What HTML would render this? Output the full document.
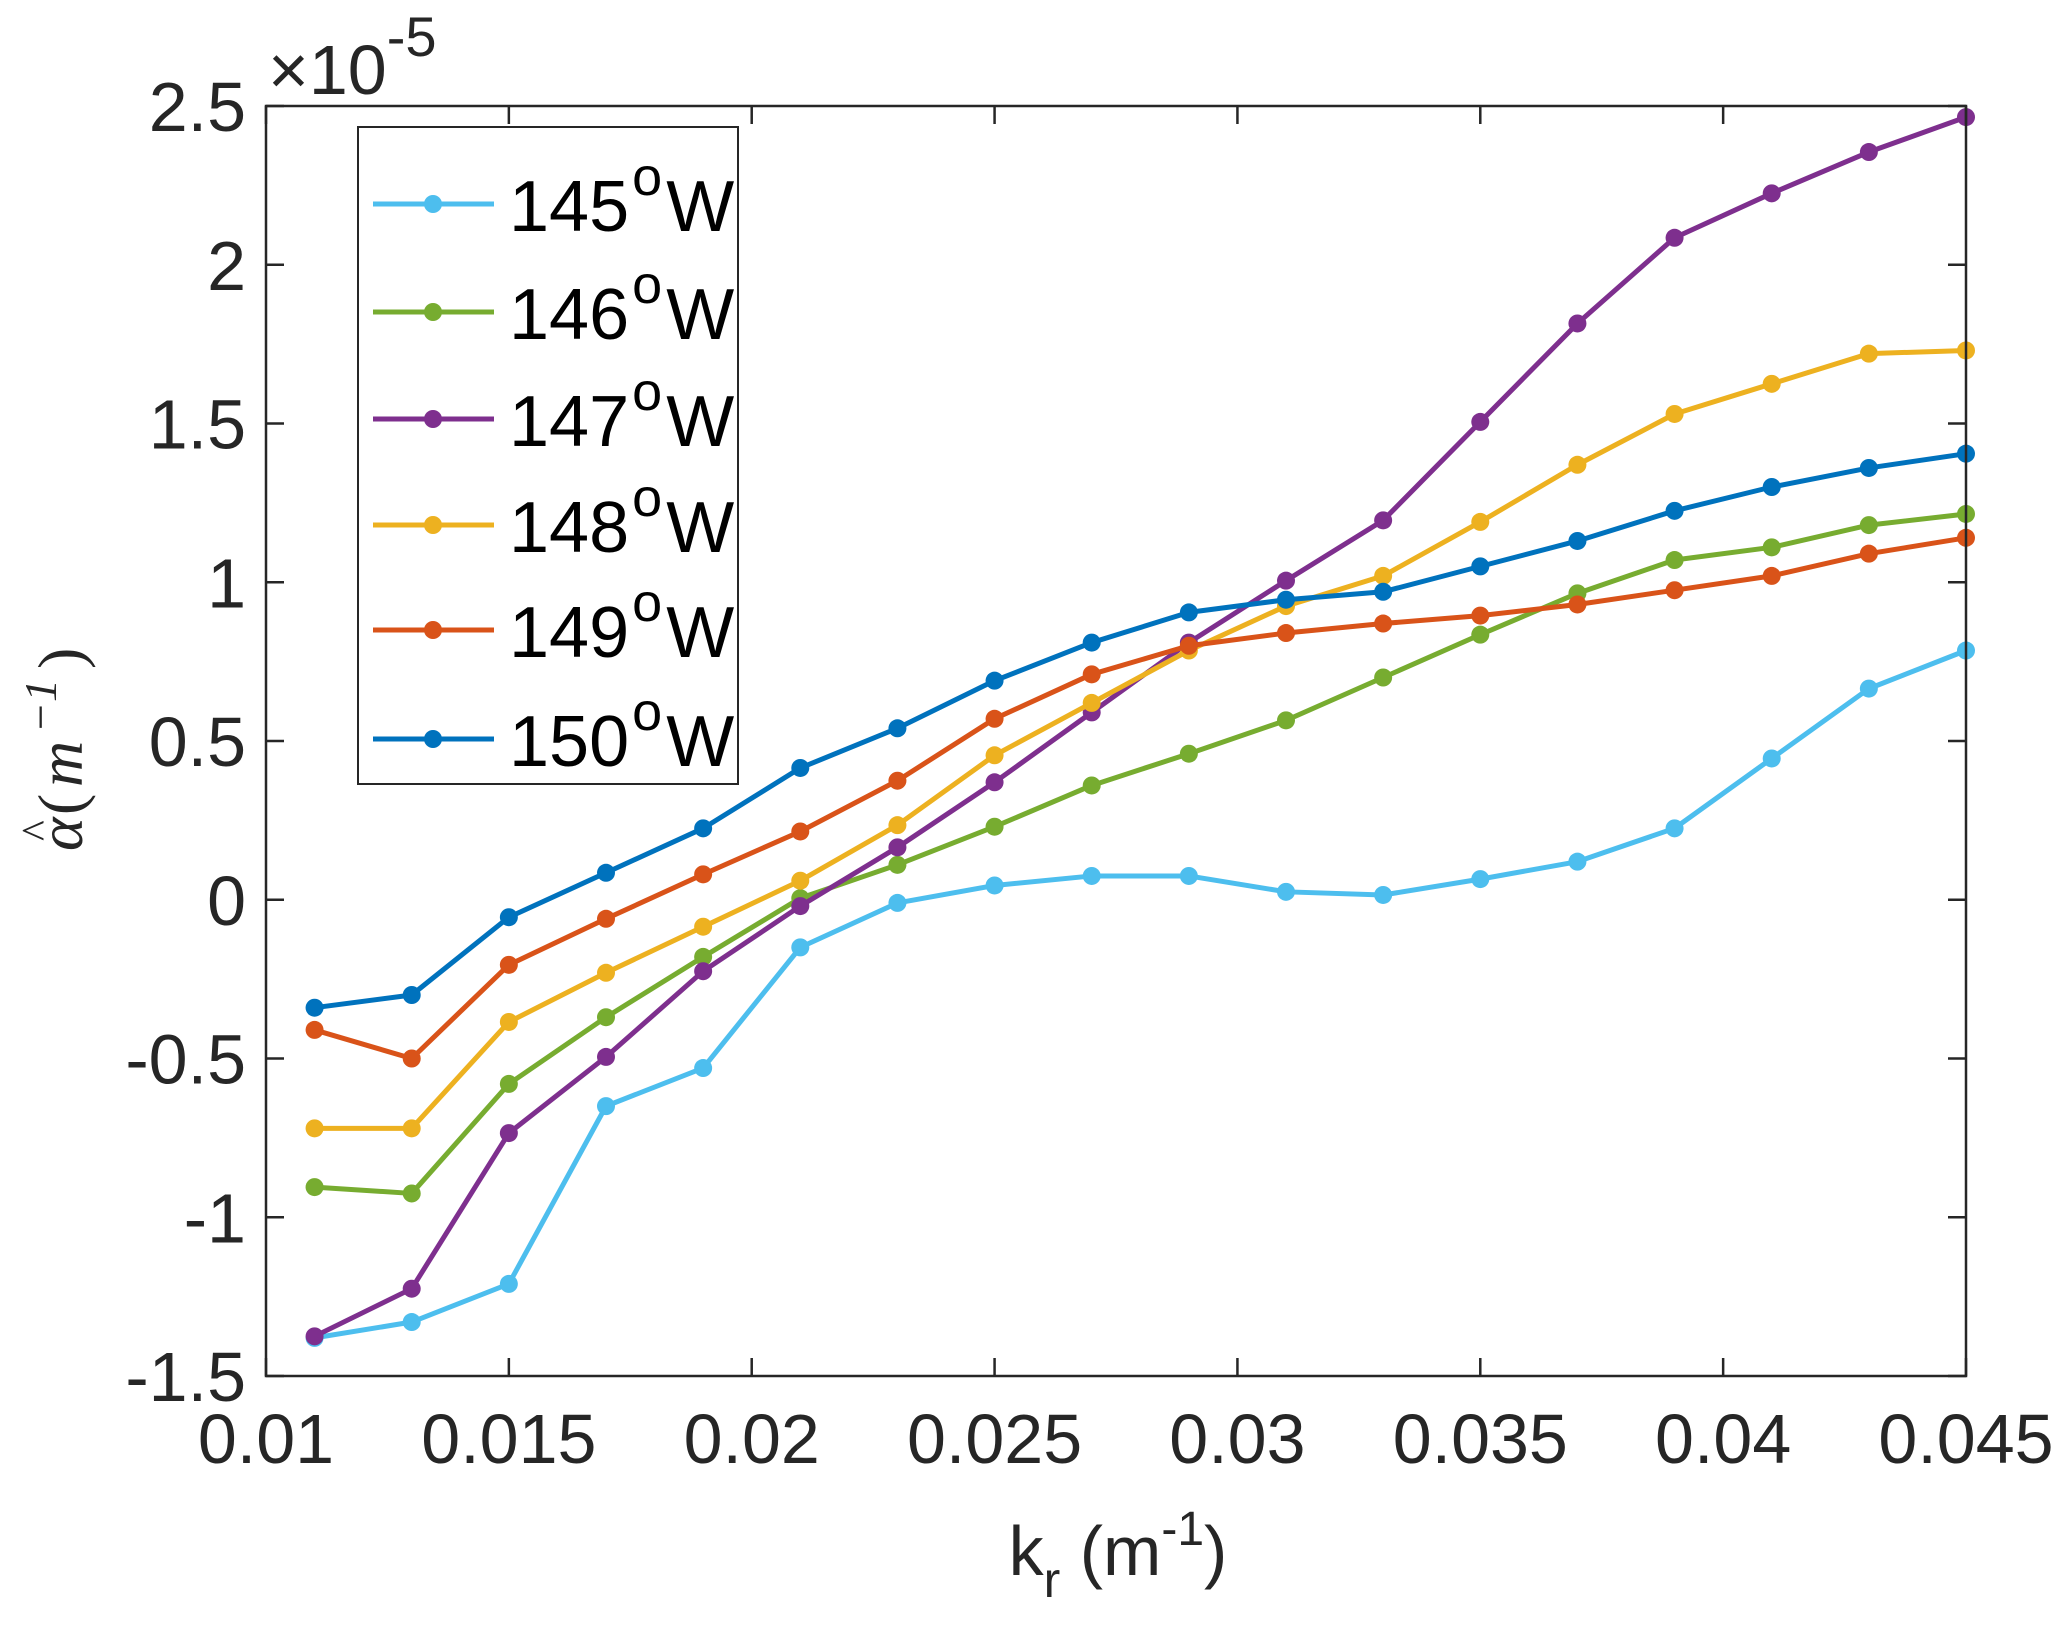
<!DOCTYPE html>
<html><head><meta charset="utf-8"><style>
html,body{margin:0;padding:0;background:#fff;}
svg{display:block;font-family:"Liberation Sans",Arial,sans-serif;}
</style></head><body>
<svg id="chart" width="2067" height="1633" viewBox="0 0 2067 1633" xmlns="http://www.w3.org/2000/svg">
<rect x="0" y="0" width="2067" height="1633" fill="#fff"/>
<g id="series"></g>
<rect x="266" y="106" width="1700" height="1270" fill="none" stroke="#262626" stroke-width="2.5"/>
<g id="ticks"></g>
<text x="268" y="94" font-size="70" fill="#262626">×10<tspan dy="-38" font-size="56">-5</tspan></text>
<g transform="translate(82,743) rotate(-90)" font-family="'Liberation Serif',serif" font-size="64" fill="#262626">
<text x="-108" y="0" font-style="italic">α</text>
<text x="-98" y="-30" font-size="44">^</text>
<text x="-72" y="0">(</text>
<text x="-44" y="0" font-style="italic">m</text>
<text x="10" y="-26" font-style="italic" font-size="46">−1</text>
<text x="74" y="0">)</text>
</g>
<text x="1118" y="1575" text-anchor="middle" font-size="70" fill="#262626">k<tspan dy="22" font-size="50">r</tspan><tspan dy="-22"> (m</tspan><tspan dy="-30" font-size="48">-1</tspan><tspan dy="30">)</tspan></text>
<g id="legend">
<rect x="358" y="127" width="380" height="657" fill="#fff" stroke="#262626" stroke-width="2"/>
</g>
</svg>
<script>
const xValues = [0.011,0.013,0.015,0.017,0.019,0.021,0.023,0.025,0.027,0.029,0.031,0.033,0.035,0.037,0.039,0.041,0.043,0.045];
const s145 = [-1.38,-1.33,-1.21,-0.65,-0.53,-0.15,-0.01,0.045,0.075,0.075,0.025,0.015,0.065,0.12,0.225,0.445,0.665,0.785];
const s146 = [-0.905,-0.925,-0.58,-0.37,-0.18,0.005,0.11,0.23,0.36,0.46,0.565,0.70,0.835,0.965,1.07,1.11,1.18,1.215];
const s147 = [-1.375,-1.225,-0.735,-0.495,-0.225,-0.02,0.165,0.37,0.59,0.81,1.005,1.195,1.505,1.815,2.085,2.225,2.355,2.465];
const s148 = [-0.72,-0.72,-0.385,-0.23,-0.085,0.06,0.235,0.455,0.62,0.785,0.925,1.02,1.19,1.37,1.53,1.625,1.72,1.73];
const s149 = [-0.41,-0.5,-0.205,-0.06,0.08,0.215,0.375,0.57,0.71,0.8,0.84,0.87,0.895,0.93,0.975,1.02,1.09,1.14];
const s150 = [-0.34,-0.3,-0.055,0.085,0.225,0.415,0.54,0.69,0.81,0.905,0.945,0.97,1.05,1.13,1.225,1.3,1.36,1.405];
const seriesLabels = ["145","146","147","148","149","150"];
const xTicks = [0.01,0.015,0.02,0.025,0.03,0.035,0.04,0.045];
const xTickLabels = ["0.01","0.015","0.02","0.025","0.03","0.035","0.04","0.045"];
const yTicks = [-1.5,-1,-0.5,0,0.5,1,1.5,2,2.5];
const yTickLabels = ["-1.5","-1","-0.5","0","0.5","1","1.5","2","2.5"];

const NS = "http://www.w3.org/2000/svg";
const L=266,R=1966,T=106,B=1376;
const xS = v => L + (v-0.01)/(0.045-0.01)*(R-L);
const yS = v => B - (v+1.5)/(4)*(B-T);
const colors = ["#4DBEEE","#77AC30","#7E2F8E","#EDB120","#D95319","#0072BD"];
const allSeries = [s145,s146,s147,s148,s149,s150];

function mk(tag, attrs, parent){const e=document.createElementNS(NS,tag);for(const k in attrs)e.setAttribute(k,attrs[k]);parent.appendChild(e);return e;}

const tk = document.getElementById('ticks');
xTicks.forEach((t,i)=>{
  const x=xS(t);
  const l=mk('line',{x1:x,x2:x,y1:B,y2:B-18,stroke:'#262626','stroke-width':2.5},tk);
  
  
  const l2=mk('line',{x1:x,x2:x,y1:T,y2:T+18,stroke:'#262626','stroke-width':2.5},tk);
  
  
  const tx=mk('text',{x:x,y:1463,'text-anchor':'middle','font-size':70,fill:'#262626'},tk);
  tx.textContent=xTickLabels[i];
  
  
});
yTicks.forEach((t,i)=>{
  const y=yS(t);
  const l=mk('line',{x1:L,x2:L+18,y1:y,y2:y,stroke:'#262626','stroke-width':2.5},tk);
  
  
  const l2=mk('line',{x1:R,x2:R-18,y1:y,y2:y,stroke:'#262626','stroke-width':2.5},tk);
  
  
  const tx=mk('text',{x:246,y:y+25,'text-anchor':'end','font-size':70,fill:'#262626'},tk);
  tx.textContent=yTickLabels[i];
  
  
});

const sg = document.getElementById('series');
allSeries.forEach((vals,si)=>{
  const g=mk('g',{},sg);
  
  
  const pts=vals.map((v,i)=>xS(xValues[i])+','+yS(v)).join(' ');
  const pl=mk('polyline',{points:pts,fill:'none',stroke:colors[si],'stroke-width':5,'stroke-linejoin':'round'},g);
  
  
  vals.forEach((v,i)=>{
    const c=mk('circle',{cx:xS(xValues[i]),cy:yS(v),r:9,fill:colors[si]},g);
    
    
  });
});

const lg=document.getElementById('legend');
const legY=[204,312,419,525,630,739];
seriesLabels.forEach((lab,i)=>{
  const y=legY[i];
  const g=mk('g',{},lg);
  
  
  mk('line',{x1:373,x2:494,y1:y,y2:y,stroke:colors[i],'stroke-width':5},g);
  mk('circle',{cx:433,cy:y,r:9,fill:colors[i]},g);
  const t=mk('text',{x:509,y:y+27,'font-size':72,fill:'#000'},g);
  t.innerHTML=lab+'<tspan dx="3" dy="-36" font-size="54">o</tspan><tspan dx="4" dy="36">W</tspan>';
});
</script>
</body></html>
